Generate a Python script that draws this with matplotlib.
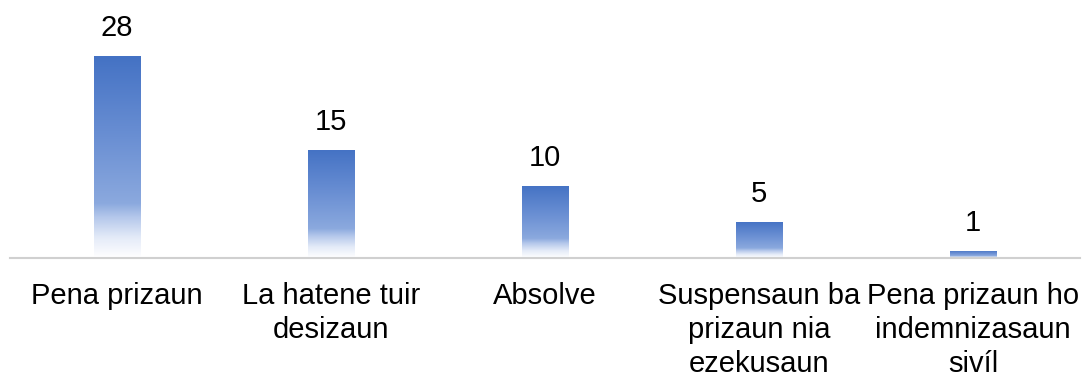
import numpy as np
import matplotlib.pyplot as plt
from matplotlib.colors import LinearSegmentedColormap

plt.rcParams['font.family'] = ['Liberation Sans', 'DejaVu Sans']

# dados
categorias = ['Pena prizaun', 'La hatene tuir\ndesizaun', 'Absolve',
              'Suspensaun ba\nprizaun nia\nezekusaun',
              'Pena prizaun ho\nindemnizasaun\nsivíl']
valores = [28, 15, 10, 5, 1]

# gradiente azul -> branco (de baixo para cima)
cmap = LinearSegmentedColormap.from_list('grad', [
    (0.0, '#FFFFFF'), (0.1, '#E4EBF8'), (0.2, '#B5C8EB'),
    (0.27, '#8BA9DE'), (0.6, '#6A8FD3'), (1.0, '#4472C4')])

fig = plt.figure(figsize=(10.82, 3.83), dpi=100)
ax = fig.add_axes([10 / 1082, 125 / 383, 1070 / 1082, 258 / 383])

x = np.arange(len(valores))
bars = ax.bar(x, valores, width=0.215, color='none', edgecolor='none')

grad = np.linspace(0, 1, 256).reshape(-1, 1)
for b in bars:
    x0, y0 = b.get_x(), b.get_y()
    w, h = b.get_width(), b.get_height()
    im = ax.imshow(grad, cmap=cmap, origin='lower', aspect='auto',
                   extent=[x0, x0 + w, y0, y0 + h], zorder=2)
    im.set_clip_path(b)

for xi, v in zip(x, valores):
    ax.annotate(str(v), (xi, v), xytext=(0, 10), textcoords='offset points',
                ha='center', va='bottom', fontsize=21, color='black')

ax.set_xlim(-0.5, len(valores) - 0.5)
ax.set_ylim(0, 35.8)
ax.set_xticks(x)
ax.set_xticklabels(categorias, fontsize=21, linespacing=1.28)
ax.tick_params(axis='x', length=0, pad=17)
ax.set_yticks([])
for s in ['top', 'right', 'left']:
    ax.spines[s].set_visible(False)
ax.spines['bottom'].set_color('#D0D0D0')
ax.spines['bottom'].set_linewidth(1.5)

fig.savefig('out.png', dpi=100)
